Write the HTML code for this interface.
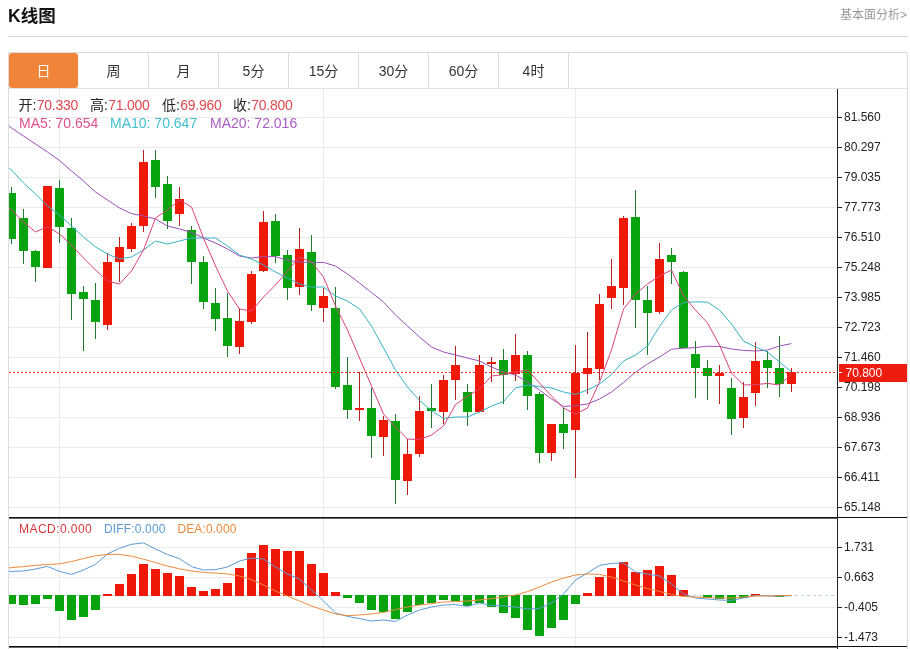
<!DOCTYPE html>
<html lang="zh-CN"><head><meta charset="utf-8"><title>K线图</title>
<style>
html,body{margin:0;padding:0;background:#fff;}
body{width:910px;height:649px;position:relative;overflow:hidden;font-family:"Liberation Sans","Noto Sans CJK SC",sans-serif;color:#222;}
.abs{position:absolute;white-space:nowrap;}
h2{position:absolute;left:8px;top:3px;margin:0;font-size:17.5px;line-height:26px;font-weight:bold;color:#111;}
.more{position:absolute;right:3px;top:6px;font-size:12px;line-height:18px;color:#999;}
.hr{position:absolute;left:8px;top:36px;width:900px;height:1px;background:#d8d8d8;}
.box{position:absolute;left:8px;top:52px;width:898px;height:620px;border:1px solid #dcdcdc;}
.tabs{position:absolute;left:9px;top:88px;width:898px;height:1px;background:#e2e2e2;}
.tab{position:absolute;top:53px;width:69px;height:35px;border-right:1px solid #dcdcdc;text-align:center;font-size:14px;line-height:36px;color:#333;}
.tab.on{background:#f0853a;color:#fff;border-right:0;top:53px;height:35px;width:69px;border-radius:3px;}
.info{position:absolute;top:96px;font-size:14px;line-height:18px;}
.info2{position:absolute;top:114px;font-size:14px;line-height:18px;}
.r{color:#e2474e;letter-spacing:-0.25px;margin-left:0.4px}
.yl{position:absolute;left:844px;font-size:12px;line-height:16px;color:#222;}
.ml{position:absolute;top:521px;font-size:12px;line-height:16px;}
</style></head><body>
<h2>K线图</h2>
<div class="more">基本面分析&gt;</div>
<div class="hr"></div>
<div class="box"></div>
<div class="tabs"></div>
<div class="tab on" style="left:9px">日</div>
<div class="tab" style="left:79px">周</div>
<div class="tab" style="left:149px">月</div>
<div class="tab" style="left:219px">5分</div>
<div class="tab" style="left:289px">15分</div>
<div class="tab" style="left:359px">30分</div>
<div class="tab" style="left:429px">60分</div>
<div class="tab" style="left:499px">4时</div>
<svg width="910" height="649" viewBox="0 0 910 649" style="position:absolute;left:0;top:0">
<defs><clipPath id="cm"><rect x="9" y="89" width="828" height="428"/></clipPath><clipPath id="cd"><rect x="9" y="518" width="828" height="129"/></clipPath></defs>
<g shape-rendering="crispEdges" stroke="#ebebeb" stroke-width="1">
<line x1="9" x2="837" y1="117.5" y2="117.5"/>
<line x1="9" x2="837" y1="147.5" y2="147.5"/>
<line x1="9" x2="837" y1="177.5" y2="177.5"/>
<line x1="9" x2="837" y1="207.5" y2="207.5"/>
<line x1="9" x2="837" y1="237.5" y2="237.5"/>
<line x1="9" x2="837" y1="267.5" y2="267.5"/>
<line x1="9" x2="837" y1="297.5" y2="297.5"/>
<line x1="9" x2="837" y1="327.5" y2="327.5"/>
<line x1="9" x2="837" y1="357.5" y2="357.5"/>
<line x1="9" x2="837" y1="387.5" y2="387.5"/>
<line x1="9" x2="837" y1="417.5" y2="417.5"/>
<line x1="9" x2="837" y1="447.5" y2="447.5"/>
<line x1="9" x2="837" y1="477.5" y2="477.5"/>
<line x1="9" x2="837" y1="507.5" y2="507.5"/>
<line x1="9" x2="837" y1="547.5" y2="547.5"/>
<line x1="9" x2="837" y1="577.5" y2="577.5"/>
<line x1="9" x2="837" y1="607.5" y2="607.5"/>
<line x1="9" x2="837" y1="637.5" y2="637.5"/>
<line x1="59.5" x2="59.5" y1="89" y2="647"/>
<line x1="323.5" x2="323.5" y1="89" y2="647"/>
<line x1="575.5" x2="575.5" y1="89" y2="647"/>
</g>
<line x1="9" x2="837" y1="595.5" y2="595.5" stroke="#b8d4dc" stroke-width="1" stroke-dasharray="3,3" shape-rendering="crispEdges"/>
<g clip-path="url(#cm)" shape-rendering="crispEdges">
<rect x="11" y="187" width="1" height="57" fill="#1f7a2c"/>
<rect x="7" y="193" width="9" height="46" fill="#08a410"/>
<rect x="23" y="209" width="1" height="55" fill="#1f7a2c"/>
<rect x="19" y="218" width="9" height="33" fill="#08a410"/>
<rect x="35" y="250" width="1" height="32" fill="#1f7a2c"/>
<rect x="31" y="251" width="9" height="16" fill="#08a410"/>
<rect x="47" y="186" width="1" height="82" fill="#b4201c"/>
<rect x="43" y="186" width="9" height="82" fill="#f01808"/>
<rect x="59" y="180" width="1" height="63" fill="#1f7a2c"/>
<rect x="55" y="188" width="9" height="39" fill="#08a410"/>
<rect x="71" y="218" width="1" height="102" fill="#1f7a2c"/>
<rect x="67" y="228" width="9" height="66" fill="#08a410"/>
<rect x="83" y="286" width="1" height="65" fill="#1f7a2c"/>
<rect x="79" y="292" width="9" height="7" fill="#08a410"/>
<rect x="95" y="283" width="1" height="56" fill="#1f7a2c"/>
<rect x="91" y="300" width="9" height="22" fill="#08a410"/>
<rect x="107" y="253" width="1" height="77" fill="#b4201c"/>
<rect x="103" y="262" width="9" height="63" fill="#f01808"/>
<rect x="119" y="237" width="1" height="45" fill="#b4201c"/>
<rect x="115" y="247" width="9" height="15" fill="#f01808"/>
<rect x="131" y="223" width="1" height="29" fill="#b4201c"/>
<rect x="127" y="226" width="9" height="23" fill="#f01808"/>
<rect x="143" y="150" width="1" height="82" fill="#b4201c"/>
<rect x="139" y="162" width="9" height="64" fill="#f01808"/>
<rect x="155" y="150" width="1" height="48" fill="#1f7a2c"/>
<rect x="151" y="160" width="9" height="27" fill="#08a410"/>
<rect x="167" y="176" width="1" height="53" fill="#1f7a2c"/>
<rect x="163" y="184" width="9" height="37" fill="#08a410"/>
<rect x="179" y="187" width="1" height="39" fill="#b4201c"/>
<rect x="175" y="199" width="9" height="15" fill="#f01808"/>
<rect x="191" y="226" width="1" height="58" fill="#1f7a2c"/>
<rect x="187" y="230" width="9" height="32" fill="#08a410"/>
<rect x="203" y="256" width="1" height="53" fill="#1f7a2c"/>
<rect x="199" y="262" width="9" height="40" fill="#08a410"/>
<rect x="215" y="288" width="1" height="43" fill="#1f7a2c"/>
<rect x="211" y="303" width="9" height="16" fill="#08a410"/>
<rect x="227" y="293" width="1" height="64" fill="#1f7a2c"/>
<rect x="223" y="318" width="9" height="28" fill="#08a410"/>
<rect x="239" y="308" width="1" height="46" fill="#b4201c"/>
<rect x="235" y="321" width="9" height="26" fill="#f01808"/>
<rect x="251" y="271" width="1" height="53" fill="#b4201c"/>
<rect x="247" y="274" width="9" height="48" fill="#f01808"/>
<rect x="263" y="211" width="1" height="61" fill="#b4201c"/>
<rect x="259" y="222" width="9" height="49" fill="#f01808"/>
<rect x="275" y="214" width="1" height="49" fill="#1f7a2c"/>
<rect x="271" y="221" width="9" height="35" fill="#08a410"/>
<rect x="287" y="250" width="1" height="50" fill="#1f7a2c"/>
<rect x="283" y="255" width="9" height="33" fill="#08a410"/>
<rect x="299" y="228" width="1" height="67" fill="#b4201c"/>
<rect x="295" y="249" width="9" height="38" fill="#f01808"/>
<rect x="311" y="235" width="1" height="76" fill="#1f7a2c"/>
<rect x="307" y="252" width="9" height="53" fill="#08a410"/>
<rect x="323" y="288" width="1" height="34" fill="#b4201c"/>
<rect x="319" y="296" width="9" height="12" fill="#f01808"/>
<rect x="335" y="287" width="1" height="102" fill="#1f7a2c"/>
<rect x="331" y="308" width="9" height="79" fill="#08a410"/>
<rect x="347" y="357" width="1" height="62" fill="#1f7a2c"/>
<rect x="343" y="385" width="9" height="25" fill="#08a410"/>
<rect x="359" y="372" width="1" height="49" fill="#b4201c"/>
<rect x="355" y="408" width="9" height="2" fill="#f01808"/>
<rect x="371" y="388" width="1" height="70" fill="#1f7a2c"/>
<rect x="367" y="408" width="9" height="28" fill="#08a410"/>
<rect x="383" y="416" width="1" height="40" fill="#b4201c"/>
<rect x="379" y="420" width="9" height="17" fill="#f01808"/>
<rect x="395" y="414" width="1" height="90" fill="#1f7a2c"/>
<rect x="391" y="421" width="9" height="59" fill="#08a410"/>
<rect x="407" y="439" width="1" height="56" fill="#b4201c"/>
<rect x="403" y="454" width="9" height="27" fill="#f01808"/>
<rect x="419" y="396" width="1" height="61" fill="#b4201c"/>
<rect x="415" y="411" width="9" height="43" fill="#f01808"/>
<rect x="431" y="384" width="1" height="44" fill="#1f7a2c"/>
<rect x="427" y="408" width="9" height="3" fill="#08a410"/>
<rect x="443" y="375" width="1" height="49" fill="#b4201c"/>
<rect x="439" y="380" width="9" height="32" fill="#f01808"/>
<rect x="455" y="346" width="1" height="54" fill="#b4201c"/>
<rect x="451" y="365" width="9" height="15" fill="#f01808"/>
<rect x="467" y="384" width="1" height="42" fill="#1f7a2c"/>
<rect x="463" y="392" width="9" height="20" fill="#08a410"/>
<rect x="479" y="355" width="1" height="57" fill="#b4201c"/>
<rect x="475" y="365" width="9" height="47" fill="#f01808"/>
<rect x="491" y="357" width="1" height="25" fill="#b4201c"/>
<rect x="487" y="362" width="9" height="2" fill="#f01808"/>
<rect x="503" y="349" width="1" height="55" fill="#1f7a2c"/>
<rect x="499" y="360" width="9" height="15" fill="#08a410"/>
<rect x="515" y="334" width="1" height="47" fill="#b4201c"/>
<rect x="511" y="355" width="9" height="19" fill="#f01808"/>
<rect x="527" y="351" width="1" height="59" fill="#1f7a2c"/>
<rect x="523" y="355" width="9" height="41" fill="#08a410"/>
<rect x="539" y="392" width="1" height="71" fill="#1f7a2c"/>
<rect x="535" y="394" width="9" height="59" fill="#08a410"/>
<rect x="551" y="424" width="1" height="37" fill="#b4201c"/>
<rect x="547" y="424" width="9" height="29" fill="#f01808"/>
<rect x="563" y="408" width="1" height="41" fill="#1f7a2c"/>
<rect x="559" y="424" width="9" height="9" fill="#08a410"/>
<rect x="575" y="345" width="1" height="133" fill="#b4201c"/>
<rect x="571" y="373" width="9" height="57" fill="#f01808"/>
<rect x="587" y="332" width="1" height="62" fill="#b4201c"/>
<rect x="583" y="368" width="9" height="6" fill="#f01808"/>
<rect x="599" y="294" width="1" height="86" fill="#b4201c"/>
<rect x="595" y="304" width="9" height="65" fill="#f01808"/>
<rect x="611" y="259" width="1" height="50" fill="#b4201c"/>
<rect x="607" y="286" width="9" height="12" fill="#f01808"/>
<rect x="623" y="216" width="1" height="89" fill="#b4201c"/>
<rect x="619" y="218" width="9" height="70" fill="#f01808"/>
<rect x="635" y="190" width="1" height="138" fill="#1f7a2c"/>
<rect x="631" y="217" width="9" height="83" fill="#08a410"/>
<rect x="647" y="286" width="1" height="69" fill="#1f7a2c"/>
<rect x="643" y="300" width="9" height="13" fill="#08a410"/>
<rect x="659" y="243" width="1" height="71" fill="#b4201c"/>
<rect x="655" y="259" width="9" height="53" fill="#f01808"/>
<rect x="671" y="248" width="1" height="36" fill="#1f7a2c"/>
<rect x="667" y="255" width="9" height="7" fill="#08a410"/>
<rect x="683" y="271" width="1" height="77" fill="#1f7a2c"/>
<rect x="679" y="272" width="9" height="76" fill="#08a410"/>
<rect x="695" y="341" width="1" height="57" fill="#1f7a2c"/>
<rect x="691" y="354" width="9" height="14" fill="#08a410"/>
<rect x="707" y="360" width="1" height="40" fill="#1f7a2c"/>
<rect x="703" y="368" width="9" height="8" fill="#08a410"/>
<rect x="719" y="365" width="1" height="39" fill="#b4201c"/>
<rect x="715" y="373" width="9" height="3" fill="#f01808"/>
<rect x="731" y="378" width="1" height="57" fill="#1f7a2c"/>
<rect x="727" y="388" width="9" height="31" fill="#08a410"/>
<rect x="743" y="382" width="1" height="46" fill="#b4201c"/>
<rect x="739" y="397" width="9" height="21" fill="#f01808"/>
<rect x="755" y="342" width="1" height="64" fill="#b4201c"/>
<rect x="751" y="361" width="9" height="32" fill="#f01808"/>
<rect x="767" y="351" width="1" height="37" fill="#1f7a2c"/>
<rect x="763" y="360" width="9" height="8" fill="#08a410"/>
<rect x="779" y="336" width="1" height="61" fill="#1f7a2c"/>
<rect x="775" y="368" width="9" height="16" fill="#08a410"/>
<rect x="791" y="368" width="1" height="24" fill="#b4201c"/>
<rect x="787" y="372" width="9" height="12" fill="#f01808"/>
</g>
<polyline clip-path="url(#cm)" fill="none" stroke="#9a4fb4" stroke-width="1.0" stroke-linejoin="round" points="9,126.0 11.5,128.0 23.5,136.0 35.5,144.0 47.5,152.0 59.5,160.5 71.5,171.0 83.5,181.0 95.5,192.0 107.5,200.0 119.5,208.0 131.5,213.6 143.5,216.0 155.5,219.0 167.5,226.0 179.5,229.0 191.5,232.4 203.5,238.0 215.5,243.0 227.5,249.0 239.5,256.0 251.5,258.0 263.5,256.6 275.5,256.6 287.5,260.4 299.5,262.0 311.5,262.4 323.5,262.4 335.5,266.0 347.5,274.0 359.5,283.0 371.5,292.5 383.5,302.0 395.5,315.0 407.5,326.0 419.5,337.0 431.5,347.0 443.5,352.0 455.5,355.0 467.5,358.0 479.5,361.0 491.5,367.0 503.5,372.0 515.5,375.0 527.5,382.0 539.5,390.0 551.5,399.0 563.5,406.4 575.5,405.6 587.5,404.0 599.5,399.0 611.5,392.0 623.5,382.5 635.5,372.2 647.5,364.0 659.5,357.0 671.5,349.2 683.5,348.2 695.5,347.6 707.5,346.2 719.5,346.5 731.5,349.0 743.5,350.4 755.5,351.0 767.5,350.0 779.5,346.0 791.5,343.6"/>
<polyline clip-path="url(#cm)" fill="none" stroke="#36b2c6" stroke-width="1.0" stroke-linejoin="round" points="9,167.5 11.5,170.0 23.5,183.0 35.5,194.0 47.5,206.0 59.5,215.0 71.5,226.0 83.5,237.0 95.5,247.0 107.5,254.0 119.5,259.0 131.5,257.0 143.5,250.0 155.5,241.0 167.5,244.0 179.5,241.0 191.5,238.0 203.5,238.0 215.5,238.0 227.5,246.0 239.5,255.0 251.5,259.0 263.5,265.0 275.5,272.0 287.5,278.0 299.5,284.0 311.5,287.0 323.5,287.0 335.5,296.0 347.5,301.0 359.5,309.0 371.5,326.0 383.5,348.0 395.5,370.0 407.5,387.0 419.5,400.5 431.5,410.5 443.5,418.5 455.5,417.0 467.5,417.0 479.5,412.0 491.5,406.0 503.5,401.5 515.5,388.0 527.5,385.0 539.5,386.6 551.5,388.0 563.5,392.0 575.5,394.4 587.5,390.0 599.5,384.0 611.5,374.4 623.5,361.0 635.5,355.0 647.5,346.0 659.5,326.5 671.5,310.0 683.5,302.5 695.5,301.8 707.5,302.2 719.5,310.0 731.5,324.0 743.5,341.0 755.5,347.0 767.5,352.0 779.5,362.0 791.5,372.0"/>
<polyline clip-path="url(#cm)" fill="none" stroke="#dc4278" stroke-width="1.0" stroke-linejoin="round" points="9,208.0 11.5,210.0 23.5,222.0 35.5,232.0 47.5,226.6 59.5,234.0 71.5,245.0 83.5,258.0 95.5,270.0 107.5,281.0 119.5,284.0 131.5,271.0 143.5,250.0 155.5,218.0 167.5,210.0 179.5,200.0 191.5,207.0 203.5,238.0 215.5,266.0 227.5,291.0 239.5,309.0 251.5,311.0 263.5,297.0 275.5,285.0 287.5,271.0 299.5,257.0 311.5,262.0 323.5,277.0 335.5,306.0 347.5,330.0 359.5,358.0 371.5,386.0 383.5,414.0 395.5,427.0 407.5,439.0 419.5,439.6 431.5,435.0 443.5,426.0 455.5,404.6 467.5,396.0 479.5,389.0 491.5,376.0 503.5,374.6 515.5,372.0 527.5,370.0 539.5,383.0 551.5,396.0 563.5,408.0 575.5,414.0 587.5,408.0 599.5,382.0 611.5,350.0 623.5,309.0 635.5,294.0 647.5,284.0 659.5,276.0 671.5,270.0 683.5,296.0 695.5,310.0 707.5,323.0 719.5,345.0 731.5,373.0 743.5,385.0 755.5,384.6 767.5,383.4 779.5,385.0 791.5,374.0"/>
<line x1="9" x2="837" y1="372.5" y2="372.5" stroke="#ee2a1c" stroke-width="1" stroke-dasharray="2,2" shape-rendering="crispEdges"/>
<g clip-path="url(#cd)" shape-rendering="crispEdges">
<rect x="7" y="595" width="9" height="9" fill="#08a410"/>
<rect x="19" y="595" width="9" height="10" fill="#08a410"/>
<rect x="31" y="595" width="9" height="9" fill="#08a410"/>
<rect x="43" y="595" width="9" height="4" fill="#08a410"/>
<rect x="55" y="595" width="9" height="16" fill="#08a410"/>
<rect x="67" y="595" width="9" height="25" fill="#08a410"/>
<rect x="79" y="595" width="9" height="22" fill="#08a410"/>
<rect x="91" y="595" width="9" height="15" fill="#08a410"/>
<rect x="103" y="594" width="9" height="2" fill="#f01808"/>
<rect x="115" y="584" width="9" height="12" fill="#f01808"/>
<rect x="127" y="574" width="9" height="22" fill="#f01808"/>
<rect x="139" y="564" width="9" height="32" fill="#f01808"/>
<rect x="151" y="569" width="9" height="27" fill="#f01808"/>
<rect x="163" y="573" width="9" height="23" fill="#f01808"/>
<rect x="175" y="576" width="9" height="20" fill="#f01808"/>
<rect x="187" y="587" width="9" height="9" fill="#f01808"/>
<rect x="199" y="591" width="9" height="5" fill="#f01808"/>
<rect x="211" y="589" width="9" height="7" fill="#f01808"/>
<rect x="223" y="583" width="9" height="13" fill="#f01808"/>
<rect x="235" y="568" width="9" height="28" fill="#f01808"/>
<rect x="247" y="553" width="9" height="43" fill="#f01808"/>
<rect x="259" y="545" width="9" height="51" fill="#f01808"/>
<rect x="271" y="549" width="9" height="47" fill="#f01808"/>
<rect x="283" y="551" width="9" height="45" fill="#f01808"/>
<rect x="295" y="551" width="9" height="45" fill="#f01808"/>
<rect x="307" y="564" width="9" height="32" fill="#f01808"/>
<rect x="319" y="573" width="9" height="23" fill="#f01808"/>
<rect x="331" y="592" width="9" height="4" fill="#f01808"/>
<rect x="343" y="595" width="9" height="3" fill="#08a410"/>
<rect x="355" y="595" width="9" height="8" fill="#08a410"/>
<rect x="367" y="595" width="9" height="15" fill="#08a410"/>
<rect x="379" y="595" width="9" height="17" fill="#08a410"/>
<rect x="391" y="595" width="9" height="24" fill="#08a410"/>
<rect x="403" y="595" width="9" height="17" fill="#08a410"/>
<rect x="415" y="595" width="9" height="10" fill="#08a410"/>
<rect x="427" y="595" width="9" height="8" fill="#08a410"/>
<rect x="439" y="595" width="9" height="5" fill="#08a410"/>
<rect x="451" y="595" width="9" height="6" fill="#08a410"/>
<rect x="463" y="595" width="9" height="11" fill="#08a410"/>
<rect x="475" y="595" width="9" height="8" fill="#08a410"/>
<rect x="487" y="595" width="9" height="12" fill="#08a410"/>
<rect x="499" y="595" width="9" height="18" fill="#08a410"/>
<rect x="511" y="595" width="9" height="23" fill="#08a410"/>
<rect x="523" y="595" width="9" height="35" fill="#08a410"/>
<rect x="535" y="595" width="9" height="41" fill="#08a410"/>
<rect x="547" y="595" width="9" height="33" fill="#08a410"/>
<rect x="559" y="595" width="9" height="25" fill="#08a410"/>
<rect x="571" y="595" width="9" height="9" fill="#08a410"/>
<rect x="583" y="593" width="9" height="3" fill="#f01808"/>
<rect x="595" y="577" width="9" height="19" fill="#f01808"/>
<rect x="607" y="568" width="9" height="28" fill="#f01808"/>
<rect x="619" y="562" width="9" height="34" fill="#f01808"/>
<rect x="631" y="572" width="9" height="24" fill="#f01808"/>
<rect x="643" y="570" width="9" height="26" fill="#f01808"/>
<rect x="655" y="566" width="9" height="30" fill="#f01808"/>
<rect x="667" y="575" width="9" height="21" fill="#f01808"/>
<rect x="679" y="590" width="9" height="6" fill="#f01808"/>
<rect x="703" y="595" width="9" height="3" fill="#08a410"/>
<rect x="715" y="595" width="9" height="4" fill="#08a410"/>
<rect x="727" y="595" width="9" height="8" fill="#08a410"/>
<rect x="739" y="595" width="9" height="3" fill="#08a410"/>
<rect x="751" y="594" width="9" height="2" fill="#f01808"/>
<rect x="775" y="595" width="9" height="2" fill="#08a410"/>
</g>
<polyline clip-path="url(#cd)" fill="none" stroke="#5b9bd5" stroke-width="1.0" stroke-linejoin="round" points="9,571.6 11.5,571.4 23.5,571.0 35.5,569.0 47.5,566.4 59.5,571.4 71.5,574.4 83.5,570.0 95.5,564.3 107.5,554.0 119.5,548.2 131.5,544.3 143.5,542.9 155.5,548.9 167.5,554.6 179.5,558.6 191.5,566.6 203.5,570.0 215.5,569.6 227.5,567.0 239.5,561.0 251.5,558.0 263.5,559.0 275.5,567.0 287.5,574.0 299.5,579.0 311.5,590.0 323.5,601.0 335.5,613.0 347.5,616.4 359.5,618.6 371.5,621.0 383.5,620.0 395.5,621.4 407.5,615.0 419.5,610.0 431.5,607.0 443.5,605.0 455.5,604.6 467.5,606.4 479.5,603.0 491.5,605.6 503.5,605.8 515.5,607.0 527.5,609.0 539.5,608.4 551.5,603.0 563.5,594.0 575.5,580.0 587.5,573.0 599.5,565.4 611.5,563.4 623.5,563.0 635.5,572.0 647.5,574.0 659.5,576.0 671.5,584.0 683.5,594.0 695.5,598.0 707.5,599.0 719.5,600.0 731.5,600.4 743.5,598.0 755.5,595.4 767.5,596.0 779.5,596.2 791.5,595.6"/>
<polyline clip-path="url(#cd)" fill="none" stroke="#ee8a3c" stroke-width="1.0" stroke-linejoin="round" points="9,567.8 11.5,567.6 23.5,566.6 35.5,565.4 47.5,564.5 59.5,563.8 71.5,561.5 83.5,558.5 95.5,555.8 107.5,554.4 119.5,554.4 131.5,556.2 143.5,559.2 155.5,562.6 167.5,566.1 179.5,568.8 191.5,571.0 203.5,572.4 215.5,573.0 227.5,574.0 239.5,576.0 251.5,579.6 263.5,585.0 275.5,591.0 287.5,596.0 299.5,601.0 311.5,606.0 323.5,610.0 335.5,614.0 347.5,615.6 359.5,615.0 371.5,614.0 383.5,612.4 395.5,609.6 407.5,607.0 419.5,605.0 431.5,603.6 443.5,602.0 455.5,601.6 467.5,601.0 479.5,600.0 491.5,598.6 503.5,597.0 515.5,595.0 527.5,591.6 539.5,587.0 551.5,582.0 563.5,578.0 575.5,575.0 587.5,574.0 599.5,574.4 611.5,577.0 623.5,581.0 635.5,585.0 647.5,588.6 659.5,591.4 671.5,594.4 683.5,596.6 695.5,597.0 707.5,597.6 719.5,598.0 731.5,598.0 743.5,597.0 755.5,596.0 767.5,595.8 779.5,595.8 791.5,595.4"/>
<g shape-rendering="crispEdges">
<rect x="837" y="89" width="1" height="560" fill="#222"/>
<rect x="838" y="117" width="4" height="1" fill="#222"/>
<rect x="838" y="147" width="4" height="1" fill="#222"/>
<rect x="838" y="177" width="4" height="1" fill="#222"/>
<rect x="838" y="207" width="4" height="1" fill="#222"/>
<rect x="838" y="237" width="4" height="1" fill="#222"/>
<rect x="838" y="267" width="4" height="1" fill="#222"/>
<rect x="838" y="297" width="4" height="1" fill="#222"/>
<rect x="838" y="327" width="4" height="1" fill="#222"/>
<rect x="838" y="357" width="4" height="1" fill="#222"/>
<rect x="838" y="387" width="4" height="1" fill="#222"/>
<rect x="838" y="417" width="4" height="1" fill="#222"/>
<rect x="838" y="447" width="4" height="1" fill="#222"/>
<rect x="838" y="477" width="4" height="1" fill="#222"/>
<rect x="838" y="507" width="4" height="1" fill="#222"/>
<rect x="838" y="547" width="4" height="1" fill="#222"/>
<rect x="838" y="577" width="4" height="1" fill="#222"/>
<rect x="838" y="607" width="4" height="1" fill="#222"/>
<rect x="838" y="637" width="4" height="1" fill="#222"/>
<rect x="9" y="517" width="898" height="1" fill="#111"/>
<rect x="9" y="518" width="828" height="1" fill="#666"/>
<rect x="9" y="646" width="898" height="1" fill="#111"/>
<rect x="9" y="647" width="828" height="1" fill="#666"/>
<rect x="839" y="364" width="68" height="18" fill="#ee1c0e"/>
<rect x="838" y="372" width="4" height="1" fill="#fff"/>
</g>
</svg>
<div class="info" style="left:18.5px">开:<span class="r">70.330</span></div>
<div class="info" style="left:90px">高:<span class="r">71.000</span></div>
<div class="info" style="left:162px">低:<span class="r">69.960</span></div>
<div class="info" style="left:233px">收:<span class="r">70.800</span></div>
<div class="info2" style="left:19px;color:#e0508a">MA5: 70.654</div>
<div class="info2" style="left:110px;color:#3fbfd2">MA10: 70.647</div>
<div class="info2" style="left:210px;color:#a85cc4">MA20: 72.016</div>
<div class="ml" style="left:19px;color:#d6383c;letter-spacing:0.45px">MACD:0.000</div>
<div class="ml" style="left:104px;color:#5b9bd5;letter-spacing:0.15px">DIFF:0.000</div>
<div class="ml" style="left:177.5px;color:#ee8a3c;letter-spacing:0.1px">DEA:0.000</div>
<div class="yl" style="top:109.3px">81.560</div>
<div class="yl" style="top:139.3px">80.297</div>
<div class="yl" style="top:169.3px">79.035</div>
<div class="yl" style="top:199.3px">77.773</div>
<div class="yl" style="top:229.3px">76.510</div>
<div class="yl" style="top:259.3px">75.248</div>
<div class="yl" style="top:289.3px">73.985</div>
<div class="yl" style="top:319.3px">72.723</div>
<div class="yl" style="top:349.3px">71.460</div>
<div class="yl" style="top:379.3px">70.198</div>
<div class="yl" style="top:409.3px">68.936</div>
<div class="yl" style="top:439.3px">67.673</div>
<div class="yl" style="top:469.3px">66.411</div>
<div class="yl" style="top:499.3px">65.148</div>
<div class="yl" style="top:539.3px">1.731</div>
<div class="yl" style="top:569.3px">0.663</div>
<div class="yl" style="top:599.3px">-0.405</div>
<div class="yl" style="top:629.3px">-1.473</div>
<div class="yl" style="top:364.5px;left:845.5px;color:#fff;font-size:12px">70.800</div>
</body></html>
